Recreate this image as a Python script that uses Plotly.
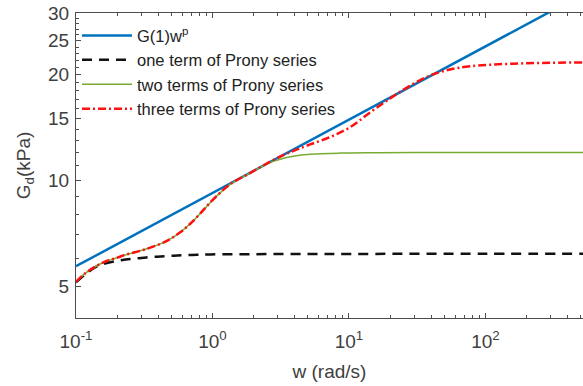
import plotly.graph_objects as go

# ---- data ----
w_fit = [0.1, 320]
G_fit = [5.70, 30.7]

w_one = [0.1, 0.118, 0.14, 0.163, 0.214, 0.288, 0.392, 0.52, 0.706, 0.97, 2, 5, 10, 100, 520]
G_one = [5.13, 5.42, 5.68, 5.80, 5.93, 6.01, 6.07, 6.11, 6.14, 6.16, 6.17, 6.18, 6.18, 6.19, 6.19]

w_two = [0.1, 0.118, 0.14, 0.166, 0.2, 0.232, 0.326, 0.456, 0.577, 0.684, 0.81, 1.0,
         1.34, 1.88, 2.63, 3.27, 4.0, 5.2, 8.6, 15, 30, 100, 520]
G_two = [5.15, 5.46, 5.70, 5.89, 6.03, 6.15, 6.38, 6.71, 7.11, 7.52, 8.04, 8.79,
         9.74, 10.5, 11.25, 11.55, 11.75, 11.88, 11.97, 12.0, 12.01, 12.02, 12.02]

w_three = [0.1, 0.118, 0.14, 0.166, 0.2, 0.232, 0.326, 0.456, 0.577, 0.684, 0.81, 1.0,
           1.34, 1.88, 2.63, 3.27, 4.0, 5.2, 7.3, 10.2, 14.2, 19.9, 27.9, 39.1, 54.8, 77,
           150, 520]
G_three = [5.15, 5.46, 5.70, 5.89, 6.03, 6.15, 6.38, 6.71, 7.11, 7.52, 8.04, 8.79,
           9.74, 10.5, 11.3, 11.79, 12.18, 12.67, 13.3, 14.19, 15.6, 17.1, 18.6, 19.9, 20.7, 21.15,
           21.5, 21.7]

x_tickvals = [0.1, 1, 10, 100]
x_ticktext = ["10<sup>-1</sup>", "10<sup>0</sup>", "10<sup>1</sup>", "10<sup>2</sup>"]
y_tickvals = [5, 10, 15, 20, 25, 30]
y_ticktext = ["5", "10", "15", "20", "25", "30"]

x_minor = [m * d for d in [0.1, 1, 10, 100] for m in range(2, 10)]
y_minor = [v for v in range(5, 31) if v not in y_tickvals]

names = ["G(1)w<sup>p</sup>", "one term of Prony series", "two terms of Prony series",
         "three terms of Prony series"]

fig = go.Figure()
fig.add_trace(go.Scatter(x=w_fit, y=G_fit, mode="lines", name=names[0],
                         line=dict(color="#0072BD", width=2.5)))
fig.add_trace(go.Scatter(x=w_one, y=G_one, mode="lines", name=names[1],
                         line=dict(color="#111111", width=2.5, dash="10px,7px", shape="spline")))
fig.add_trace(go.Scatter(x=w_two, y=G_two, mode="lines", name=names[2],
                         line=dict(color="#77AC30", width=1.5, shape="spline")))
fig.add_trace(go.Scatter(x=w_three, y=G_three, mode="lines", name=names[3],
                         line=dict(color="#FF1010", width=2.5, dash="8px,3px,2px,3px", shape="spline")))

axcol = "#4d4d4d"
txtcol = "#404040"
fig.update_layout(
    width=583, height=386,
    margin=dict(l=76, r=0, t=13, b=68),
    paper_bgcolor="white", plot_bgcolor="white",
    font=dict(family="Liberation Sans, Arial, sans-serif", color="#333333"),
    showlegend=True,
    legend=dict(x=0.002, y=0.983, xanchor="left", yanchor="top",
                bgcolor="rgba(0,0,0,0)", font=dict(size=16.5, color="#222222"),
                itemwidth=50, tracegroupgap=0),
    xaxis=dict(type="log", range=[-1, 2.715], showgrid=False, zeroline=False, automargin=False,
               showline=True, linecolor=axcol, linewidth=1, mirror="ticks",
               ticks="inside", ticklen=5, tickcolor=axcol, ticklabelstandoff=6,
               tickvals=x_tickvals, ticktext=x_ticktext, tickfont=dict(size=19, color=txtcol),
               minor=dict(tickvals=x_minor, ticks="inside", ticklen=3, tickcolor=axcol),
               title=dict(text="w (rad/s)", font=dict(size=19, color=txtcol), standoff=13)),
    yaxis=dict(type="log", range=[0.6085, 1.4771], showgrid=False, zeroline=False, automargin=False,
               showline=True, linecolor=axcol, linewidth=1, mirror=False,
               ticks="inside", ticklen=5, tickcolor=axcol, ticklabelstandoff=2,
               tickvals=y_tickvals, ticktext=y_ticktext, tickfont=dict(size=19, color=txtcol),
               minor=dict(tickvals=y_minor, ticks="inside", ticklen=3, tickcolor=axcol),
               title=dict(text="G<sub>d</sub>(kPa)", font=dict(size=19, color=txtcol), standoff=12)),
)

fig.write_html("out.html", config={"displayModeBar": False},
               post_script="document.body.style.margin='0';document.body.style.overflow='hidden';")
